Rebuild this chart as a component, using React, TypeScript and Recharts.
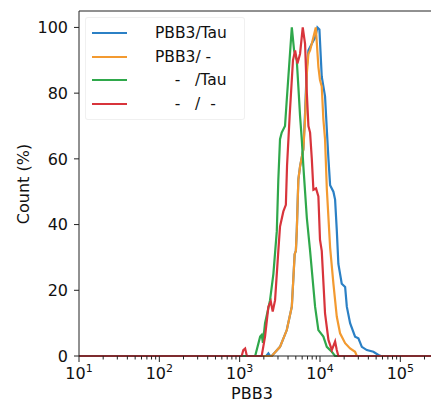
import { LineChart, Line, XAxis, YAxis, Legend, ReferenceLine } from "recharts";

// PBB3 intensity (x) and count % (y)
const blueX = [10, 2140, 2280, 2400, 2510, 3180, 3860, 4460, 4840, 5010, 5140, 5380, 5650, 6210, 6520, 6860, 7180, 7910, 8710, 9290, 9840, 10520, 11560, 12160, 12740, 13370, 14690, 15420, 16180, 16940, 18660, 20560, 21580, 23710, 27350, 30060, 33190, 38280, 46240, 53330, 57540, 241000];
const blueY = [0, 0, 0.8, 0, 0, 2.8, 7.9, 15, 31, 32, 38, 53.7, 57.7, 63, 74, 88, 93, 95, 97, 100, 99.4, 85, 79, 69, 60, 52, 50, 47.6, 38.4, 28, 22, 21, 15, 10, 5.9, 5.4, 2.8, 1.8, 1.3, 0.3, 0, 0];

const orangeX = [10, 2510, 3180, 3860, 4460, 4840, 5010, 5140, 5380, 5650, 6210, 6520, 6860, 7180, 7530, 8280, 8870, 9550, 10000, 10520, 11020, 11560, 12160, 13370, 14690, 16180, 17780, 20560, 23710, 27350, 28710, 241000];
const orangeY = [0, 0, 2.8, 7.9, 15, 31, 32, 38, 53.7, 57.7, 63, 72, 86, 92, 93, 97, 100, 88, 84, 82, 72, 66, 51, 33, 22, 12, 6.9, 3.9, 2.3, 1.3, 0, 0];

const greenX = [10, 1560, 1800, 1880, 1950, 2070, 2390, 2630, 2900, 3030, 3180, 3340, 3670, 3860, 4460, 4760, 5140, 5380, 5650, 5930, 6210, 6860, 7530, 8690, 9550, 11020, 12160, 14030, 15420, 241000];
const greenY = [0, 0, 5.9, 6.4, 4, 10, 17, 25, 38, 53.7, 66, 68, 70, 78, 100, 93, 90, 82, 73, 66, 57.7, 42, 32, 15, 7.9, 5.9, 2.8, 1.3, 0, 0];

const redX = [10, 1060, 1110, 1170, 1230, 1880, 2070, 2280, 2440, 2580, 2760, 2900, 3030, 3180, 3500, 3760, 3890, 4190, 4610, 4900, 5240, 5650, 6100, 6520, 6860, 7180, 7530, 7910, 8280, 8930, 9550, 10000, 10520, 11560, 12740, 14030, 15420, 16180, 16940, 241000];
const redY = [0, 0, 1.8, 2.3, 0, 0, 5.9, 15, 16.6, 13.5, 17, 25, 32, 39.4, 44, 46, 58, 73, 90, 93, 89, 92, 100, 95, 80, 70, 68, 60, 50.6, 51, 48.6, 35.4, 32, 13, 4.9, 1.8, 4.4, 1.8, 0, 0];

const seriesNames = ["PBB3/Tau", "PBB3/ -", "    -   /Tau", "    -   /  -"];
const seriesColors = ["#2b80c5", "#f39a30", "#2fa84b", "#d8343b"];

const yTicks = [0, 20, 40, 60, 80, 100];
const xMajor = [10, 100, 1000, 10000, 100000];
const xMinor = [20, 30, 40, 50, 60, 70, 80, 90, 200, 300, 400, 500, 600, 700, 800, 900, 2000, 3000, 4000, 5000, 6000, 7000, 8000, 9000, 20000, 30000, 40000, 50000, 60000, 70000, 80000, 90000, 200000];

const FONT = "DejaVu Sans, sans-serif";

const toPoints = (xs: number[], ys: number[]) => xs.map((x, i) => ({ x, y: ys[i] }));

const series = [
  toPoints(blueX, blueY),
  toPoints(orangeX, orangeY),
  toPoints(greenX, greenY),
  toPoints(redX, redY),
];

function XTick(props: any) {
  const { x, y, payload } = props;
  const v = payload.value;
  const major = xMajor.includes(v);
  const exp = Math.round(Math.log10(v));
  return (
    <g>
      <line x1={x} x2={x} y1={y} y2={y + (major ? 6 : 3.5)} stroke="#222" strokeWidth={1} />
      {major && (
        <text x={x} y={y + 23} textAnchor="middle" fontSize={16} fontFamily={FONT} fill="#111">
          10<tspan dy={-7} fontSize={11}>{exp}</tspan>
        </text>
      )}
    </g>
  );
}

// legend drawn in series order (blue, orange, green, red)
function LegendBox() {
  return (
    <div
      style={{
        position: "relative",
        width: 158,
        height: 101,
        border: "1px solid rgba(0,0,0,0.06)",
        borderRadius: 3,
        background: "rgba(255,255,255,0.85)",
        fontFamily: FONT,
        fontSize: 15.5,
        color: "#111",
      }}
    >
      {seriesNames.map((name, i) => (
        <div key={i} style={{ position: "absolute", left: 0, top: 4 + i * 23.5, height: 22, width: 158 }}>
          <div style={{ position: "absolute", left: 6, top: 10, width: 35, height: 2.2, background: seriesColors[i] }} />
          <div style={{ position: "absolute", left: 69, top: 1, whiteSpace: "pre", lineHeight: "20px" }}>{name}</div>
        </div>
      ))}
    </div>
  );
}

export default function App() {
  return (
    <div style={{ position: "absolute", left: 0, top: 0, width: 431, height: 403, background: "#fff" }}>
      <LineChart width={431} height={403} margin={{ top: 11, right: 0, bottom: 0, left: 0 }}>
        <XAxis
          dataKey="x"
          type="number"
          scale="log"
          domain={[10, 241000]}
          ticks={[...xMajor, ...xMinor]}
          interval={0}
          height={47}
          tickSize={0}
          tickMargin={0}
          tickLine={false}
          tick={(p: any) => <XTick {...p} />}
          axisLine={{ stroke: "#222", strokeWidth: 1 }}
          label={{
            content: () => (
              <text x={252} y={399} textAnchor="middle" fontSize={16} fontFamily={FONT} fill="#111">
                PBB3
              </text>
            ),
          }}
        />
        <YAxis
          dataKey="y"
          type="number"
          domain={[0, 105]}
          ticks={yTicks}
          interval={0}
          width={79}
          tickSize={5}
          tickMargin={6}
          tickLine={{ stroke: "#222" }}
          axisLine={{ stroke: "#222", strokeWidth: 1 }}
          tick={{ fontSize: 16, fontFamily: FONT, fill: "#111" }}
          label={{
            content: () => (
              <text
                x={23}
                y={184}
                transform="rotate(-90 23 184)"
                textAnchor="middle"
                dominantBaseline="central"
                fontSize={16}
                fontFamily={FONT}
                fill="#111"
              >
                Count (%)
              </text>
            ),
          }}
        />
        <ReferenceLine y={105} stroke="#222" strokeWidth={1} />
        {series.map((d, i) => (
          <Line
            key={seriesNames[i]}
            data={d}
            dataKey="y"
            name={seriesNames[i]}
            type="linear"
            stroke={seriesColors[i]}
            strokeWidth={2.2}
            dot={false}
            activeDot={false}
            isAnimationActive={false}
          />
        ))}
        <Legend
          layout="horizontal"
          verticalAlign="middle"
          align="center"
          content={() => <LegendBox />}
          wrapperStyle={{ left: 85, top: 17, width: 158, height: 101 }}
        />
      </LineChart>
    </div>
  );
}
